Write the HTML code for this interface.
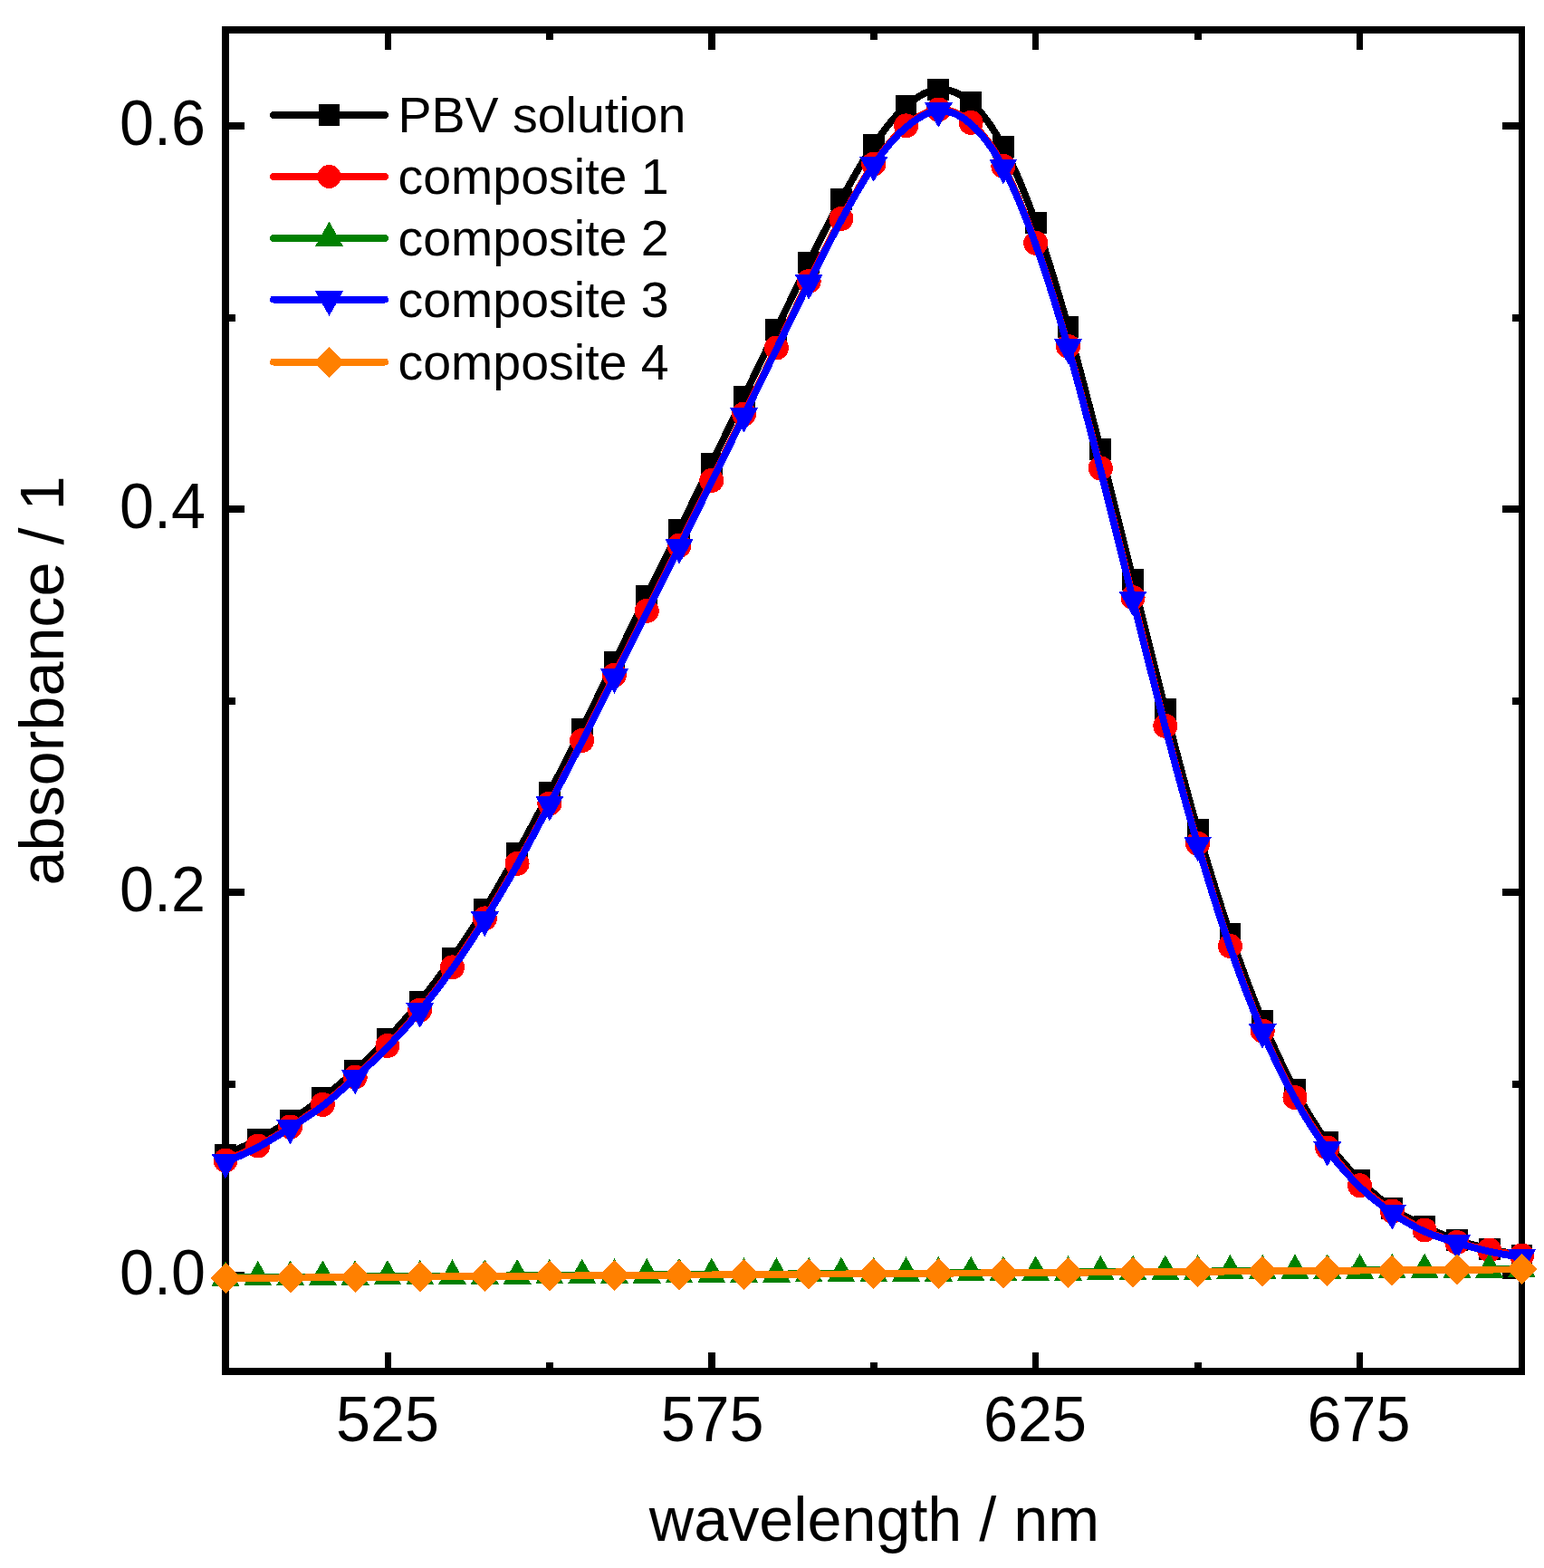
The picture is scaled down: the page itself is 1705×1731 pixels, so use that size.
<!DOCTYPE html>
<html><head><meta charset="utf-8"><title>absorbance spectra</title>
<style>
html,body{margin:0;padding:0;background:#fff;}
body{width:1705px;height:1731px;overflow:hidden;}
svg{display:block;}
text{font-family:"Liberation Sans",Arial,sans-serif;}
</style></head>
<body>
<svg width="1705" height="1731" viewBox="0 0 1705 1731" shape-rendering="crispEdges">
<rect width="1705" height="1731" fill="#fff"/>
<g fill="#000"><rect x="245.00" y="29.00" width="8.00" height="1489.00"/><rect x="1677.00" y="29.00" width="7.00" height="1489.00"/><rect x="245.00" y="29.00" width="1439.00" height="8.00"/><rect x="245.00" y="1510.00" width="1439.00" height="8.00"/><rect x="424.90" y="1493.20" width="7.20" height="17.00"/><rect x="424.90" y="37.00" width="7.20" height="17.70"/><rect x="782.40" y="1493.20" width="7.20" height="17.00"/><rect x="782.40" y="37.00" width="7.20" height="17.70"/><rect x="1139.90" y="1493.20" width="7.20" height="17.00"/><rect x="1139.90" y="37.00" width="7.20" height="17.70"/><rect x="1497.90" y="1493.20" width="7.20" height="17.00"/><rect x="1497.90" y="37.00" width="7.20" height="17.70"/><rect x="602.88" y="1504.00" width="8.00" height="6.00"/><rect x="602.88" y="37.00" width="8.00" height="6.80"/><rect x="960.75" y="1504.00" width="8.00" height="6.00"/><rect x="960.75" y="37.00" width="8.00" height="6.80"/><rect x="1318.62" y="1504.00" width="8.00" height="6.00"/><rect x="1318.62" y="37.00" width="8.00" height="6.80"/><rect x="253.00" y="1404.00" width="17.00" height="8.00"/><rect x="1659.00" y="1404.00" width="18.00" height="8.00"/><rect x="253.00" y="981.00" width="17.00" height="8.00"/><rect x="1659.00" y="981.00" width="18.00" height="8.00"/><rect x="253.00" y="558.00" width="17.00" height="8.00"/><rect x="1659.00" y="558.00" width="18.00" height="8.00"/><rect x="253.00" y="135.00" width="17.00" height="8.00"/><rect x="1659.00" y="135.00" width="18.00" height="8.00"/><rect x="253.00" y="1192.50" width="7.00" height="8.00"/><rect x="1670.00" y="1192.50" width="7.00" height="8.00"/><rect x="253.00" y="769.50" width="7.00" height="8.00"/><rect x="1670.00" y="769.50" width="7.00" height="8.00"/><rect x="253.00" y="346.50" width="7.00" height="8.00"/><rect x="1670.00" y="346.50" width="7.00" height="8.00"/></g>
<g font-size="70" fill="#000">
<text transform="translate(428.00,1591) scale(1,1.04)" text-anchor="middle" font-size="68.3">525</text>
<text transform="translate(786.60,1591) scale(1,1.04)" text-anchor="middle" font-size="68.3">575</text>
<text transform="translate(1143.00,1591) scale(1,1.04)" text-anchor="middle" font-size="68.3">625</text>
<text transform="translate(1500.40,1591) scale(1,1.04)" text-anchor="middle" font-size="68.3">675</text>
<text transform="translate(227,1429.00) scale(1,1.04)" text-anchor="end" font-size="68.3">0.0</text>
<text transform="translate(227,1006.00) scale(1,1.04)" text-anchor="end" font-size="68.3">0.2</text>
<text transform="translate(227,583.00) scale(1,1.04)" text-anchor="end" font-size="68.3">0.4</text>
<text transform="translate(227,160.00) scale(1,1.04)" text-anchor="end" font-size="68.3">0.6</text>
<text x="965.5" y="1701" text-anchor="middle" font-size="68.3">wavelength / nm</text>
<text transform="translate(70,751.5) rotate(-90)" text-anchor="middle" font-size="68.3">absorbance / 1</text>
</g>
<g fill="#000000"><path d="M249.00,1274.80 C254.96,1271.98 272.86,1264.20 284.79,1257.90 C296.72,1251.60 308.65,1244.65 320.57,1237.00 C332.50,1229.35 344.43,1221.17 356.36,1212.00 C368.29,1202.83 380.22,1192.90 392.15,1182.00 C404.08,1171.10 416.01,1159.32 427.94,1146.60 C439.87,1133.88 451.80,1120.50 463.73,1105.70 C475.65,1090.90 487.58,1074.78 499.51,1057.80 C511.44,1040.82 523.37,1023.17 535.30,1003.80 C547.23,984.43 559.16,963.10 571.09,941.60 C583.02,920.10 594.95,897.60 606.88,874.80 C618.80,852.00 630.73,828.78 642.66,804.80 C654.59,780.82 666.52,755.38 678.45,730.90 C690.38,706.42 702.31,682.25 714.24,657.90 C726.17,633.55 738.10,609.18 750.03,584.80 C761.95,560.42 773.88,536.12 785.81,511.60 C797.74,487.08 809.67,462.35 821.60,437.70 C833.53,413.05 845.46,388.35 857.39,363.70 C869.32,339.05 881.25,313.75 893.18,289.80 C905.10,265.85 917.03,241.63 928.96,220.00 C940.89,198.37 952.82,177.17 964.75,160.00 C976.68,142.83 988.61,127.22 1000.54,117.00 C1012.47,106.78 1024.40,99.38 1036.33,98.70 C1048.25,98.02 1060.18,102.38 1072.11,112.90 C1084.04,123.42 1095.97,139.67 1107.90,161.80 C1119.83,183.93 1131.76,212.52 1143.69,245.70 C1155.62,278.88 1167.55,319.22 1179.47,360.90 C1191.40,402.58 1203.33,449.30 1215.26,495.80 C1227.19,542.30 1239.12,592.03 1251.05,639.90 C1262.98,687.77 1274.91,736.98 1286.84,783.00 C1298.77,829.02 1310.70,874.70 1322.62,916.00 C1334.55,957.30 1346.48,995.65 1358.41,1030.80 C1370.34,1065.95 1382.27,1098.20 1394.20,1126.90 C1406.13,1155.60 1418.06,1180.62 1429.99,1203.00 C1441.92,1225.38 1453.85,1244.57 1465.78,1261.20 C1477.70,1277.83 1489.63,1290.70 1501.56,1302.80 C1513.49,1314.90 1525.42,1325.30 1537.35,1333.80 C1549.28,1342.30 1561.21,1347.93 1573.14,1353.80 C1585.07,1359.67 1597.00,1364.87 1608.92,1369.00 C1620.85,1373.13 1632.78,1375.78 1644.71,1378.60 C1656.64,1381.42 1674.54,1384.68 1680.50,1385.90" fill="none" stroke="#000000" stroke-width="7.8" stroke-linejoin="round" stroke-linecap="round"/>
<rect x="237.10" y="1262.90" width="23.8" height="23.8"/>
<rect x="272.89" y="1246.00" width="23.8" height="23.8"/>
<rect x="308.68" y="1225.10" width="23.8" height="23.8"/>
<rect x="344.46" y="1200.10" width="23.8" height="23.8"/>
<rect x="380.25" y="1170.10" width="23.8" height="23.8"/>
<rect x="416.04" y="1134.70" width="23.8" height="23.8"/>
<rect x="451.83" y="1093.80" width="23.8" height="23.8"/>
<rect x="487.61" y="1045.90" width="23.8" height="23.8"/>
<rect x="523.40" y="991.90" width="23.8" height="23.8"/>
<rect x="559.19" y="929.70" width="23.8" height="23.8"/>
<rect x="594.98" y="862.90" width="23.8" height="23.8"/>
<rect x="630.76" y="792.90" width="23.8" height="23.8"/>
<rect x="666.55" y="719.00" width="23.8" height="23.8"/>
<rect x="702.34" y="646.00" width="23.8" height="23.8"/>
<rect x="738.13" y="572.90" width="23.8" height="23.8"/>
<rect x="773.91" y="499.70" width="23.8" height="23.8"/>
<rect x="809.70" y="425.80" width="23.8" height="23.8"/>
<rect x="845.49" y="351.80" width="23.8" height="23.8"/>
<rect x="881.28" y="277.90" width="23.8" height="23.8"/>
<rect x="917.06" y="208.10" width="23.8" height="23.8"/>
<rect x="952.85" y="148.10" width="23.8" height="23.8"/>
<rect x="988.64" y="105.10" width="23.8" height="23.8"/>
<rect x="1024.42" y="86.80" width="23.8" height="23.8"/>
<rect x="1060.21" y="101.00" width="23.8" height="23.8"/>
<rect x="1096.00" y="149.90" width="23.8" height="23.8"/>
<rect x="1131.79" y="233.80" width="23.8" height="23.8"/>
<rect x="1167.57" y="349.00" width="23.8" height="23.8"/>
<rect x="1203.36" y="483.90" width="23.8" height="23.8"/>
<rect x="1239.15" y="628.00" width="23.8" height="23.8"/>
<rect x="1274.94" y="771.10" width="23.8" height="23.8"/>
<rect x="1310.72" y="904.10" width="23.8" height="23.8"/>
<rect x="1346.51" y="1018.90" width="23.8" height="23.8"/>
<rect x="1382.30" y="1115.00" width="23.8" height="23.8"/>
<rect x="1418.09" y="1191.10" width="23.8" height="23.8"/>
<rect x="1453.88" y="1249.30" width="23.8" height="23.8"/>
<rect x="1489.66" y="1290.90" width="23.8" height="23.8"/>
<rect x="1525.45" y="1321.90" width="23.8" height="23.8"/>
<rect x="1561.24" y="1341.90" width="23.8" height="23.8"/>
<rect x="1597.02" y="1357.10" width="23.8" height="23.8"/>
<rect x="1632.81" y="1366.70" width="23.8" height="23.8"/>
<rect x="1668.60" y="1374.00" width="23.8" height="23.8"/>
</g>
<g fill="#FF0000"><path d="M249.00,1281.00 C254.96,1278.33 272.86,1271.17 284.79,1265.00 C296.72,1258.83 308.65,1251.60 320.57,1244.00 C332.50,1236.40 344.43,1228.57 356.36,1219.40 C368.29,1210.23 380.22,1199.82 392.15,1189.00 C404.08,1178.18 416.01,1166.83 427.94,1154.50 C439.87,1142.17 451.80,1129.43 463.73,1115.00 C475.65,1100.57 487.58,1084.75 499.51,1067.90 C511.44,1051.05 523.37,1033.00 535.30,1013.90 C547.23,994.80 559.16,974.45 571.09,953.30 C583.02,932.15 594.95,909.63 606.88,887.00 C618.80,864.37 630.73,841.13 642.66,817.50 C654.59,793.87 666.52,769.07 678.45,745.20 C690.38,721.33 702.31,698.13 714.24,674.30 C726.17,650.47 738.10,626.20 750.03,602.20 C761.95,578.20 773.88,554.50 785.81,530.30 C797.74,506.10 809.67,481.38 821.60,457.00 C833.53,432.62 845.46,408.42 857.39,384.00 C869.32,359.58 881.25,334.25 893.18,310.50 C905.10,286.75 917.03,263.05 928.96,241.50 C940.89,219.95 952.82,198.30 964.75,181.20 C976.68,164.10 988.61,148.93 1000.54,138.90 C1012.47,128.87 1024.40,121.60 1036.33,121.00 C1048.25,120.40 1060.18,124.92 1072.11,135.30 C1084.04,145.68 1095.97,161.12 1107.90,183.30 C1119.83,205.48 1131.76,235.22 1143.69,268.40 C1155.62,301.58 1167.55,340.98 1179.47,382.40 C1191.40,423.82 1203.33,470.70 1215.26,516.90 C1227.19,563.10 1239.12,612.18 1251.05,659.60 C1262.98,707.02 1274.91,756.12 1286.84,801.40 C1298.77,846.68 1310.70,890.78 1322.62,931.30 C1334.55,971.82 1346.48,1010.05 1358.41,1044.50 C1370.34,1078.95 1382.27,1110.15 1394.20,1138.00 C1406.13,1165.85 1418.06,1190.10 1429.99,1211.60 C1441.92,1233.10 1453.85,1250.82 1465.78,1267.00 C1477.70,1283.18 1489.63,1297.03 1501.56,1308.70 C1513.49,1320.37 1525.42,1328.78 1537.35,1337.00 C1549.28,1345.22 1561.21,1352.25 1573.14,1358.00 C1585.07,1363.75 1597.00,1367.83 1608.92,1371.50 C1620.85,1375.17 1632.78,1377.58 1644.71,1380.00 C1656.64,1382.42 1674.54,1385.00 1680.50,1386.00" fill="none" stroke="#FF0000" stroke-width="7.8" stroke-linejoin="round" stroke-linecap="round"/>
<circle cx="249.00" cy="1281.00" r="13.5"/>
<circle cx="284.79" cy="1265.00" r="13.5"/>
<circle cx="320.57" cy="1244.00" r="13.5"/>
<circle cx="356.36" cy="1219.40" r="13.5"/>
<circle cx="392.15" cy="1189.00" r="13.5"/>
<circle cx="427.94" cy="1154.50" r="13.5"/>
<circle cx="463.73" cy="1115.00" r="13.5"/>
<circle cx="499.51" cy="1067.90" r="13.5"/>
<circle cx="535.30" cy="1013.90" r="13.5"/>
<circle cx="571.09" cy="953.30" r="13.5"/>
<circle cx="606.88" cy="887.00" r="13.5"/>
<circle cx="642.66" cy="817.50" r="13.5"/>
<circle cx="678.45" cy="745.20" r="13.5"/>
<circle cx="714.24" cy="674.30" r="13.5"/>
<circle cx="750.03" cy="602.20" r="13.5"/>
<circle cx="785.81" cy="530.30" r="13.5"/>
<circle cx="821.60" cy="457.00" r="13.5"/>
<circle cx="857.39" cy="384.00" r="13.5"/>
<circle cx="893.18" cy="310.50" r="13.5"/>
<circle cx="928.96" cy="241.50" r="13.5"/>
<circle cx="964.75" cy="181.20" r="13.5"/>
<circle cx="1000.54" cy="138.90" r="13.5"/>
<circle cx="1036.33" cy="121.00" r="13.5"/>
<circle cx="1072.11" cy="135.30" r="13.5"/>
<circle cx="1107.90" cy="183.30" r="13.5"/>
<circle cx="1143.69" cy="268.40" r="13.5"/>
<circle cx="1179.47" cy="382.40" r="13.5"/>
<circle cx="1215.26" cy="516.90" r="13.5"/>
<circle cx="1251.05" cy="659.60" r="13.5"/>
<circle cx="1286.84" cy="801.40" r="13.5"/>
<circle cx="1322.62" cy="931.30" r="13.5"/>
<circle cx="1358.41" cy="1044.50" r="13.5"/>
<circle cx="1394.20" cy="1138.00" r="13.5"/>
<circle cx="1429.99" cy="1211.60" r="13.5"/>
<circle cx="1465.78" cy="1267.00" r="13.5"/>
<circle cx="1501.56" cy="1308.70" r="13.5"/>
<circle cx="1537.35" cy="1337.00" r="13.5"/>
<circle cx="1573.14" cy="1358.00" r="13.5"/>
<circle cx="1608.92" cy="1371.50" r="13.5"/>
<circle cx="1644.71" cy="1380.00" r="13.5"/>
<circle cx="1680.50" cy="1386.00" r="13.5"/>
</g>
<g fill="#008000"><path d="M249.00,1410.40 C254.96,1410.36 272.86,1410.25 284.79,1410.17 C296.72,1410.09 308.65,1410.02 320.57,1409.94 C332.50,1409.86 344.43,1409.79 356.36,1409.71 C368.29,1409.63 380.22,1409.56 392.15,1409.48 C404.08,1409.40 416.01,1409.33 427.94,1409.25 C439.87,1409.17 451.80,1409.10 463.73,1409.02 C475.65,1408.94 487.58,1408.87 499.51,1408.79 C511.44,1408.71 523.37,1408.64 535.30,1408.56 C547.23,1408.48 559.16,1408.41 571.09,1408.33 C583.02,1408.25 594.95,1408.18 606.88,1408.10 C618.80,1408.02 630.73,1407.95 642.66,1407.87 C654.59,1407.79 666.52,1407.72 678.45,1407.64 C690.38,1407.56 702.31,1407.49 714.24,1407.41 C726.17,1407.33 738.10,1407.26 750.03,1407.18 C761.95,1407.10 773.88,1407.03 785.81,1406.95 C797.74,1406.87 809.67,1406.80 821.60,1406.72 C833.53,1406.64 845.46,1406.57 857.39,1406.49 C869.32,1406.41 881.25,1406.34 893.18,1406.26 C905.10,1406.18 917.03,1406.11 928.96,1406.03 C940.89,1405.95 952.82,1405.88 964.75,1405.80 C976.68,1405.72 988.61,1405.65 1000.54,1405.57 C1012.47,1405.49 1024.40,1405.42 1036.33,1405.34 C1048.25,1405.26 1060.18,1405.19 1072.11,1405.11 C1084.04,1405.03 1095.97,1404.96 1107.90,1404.88 C1119.83,1404.80 1131.76,1404.73 1143.69,1404.65 C1155.62,1404.57 1167.55,1404.50 1179.47,1404.42 C1191.40,1404.34 1203.33,1404.27 1215.26,1404.19 C1227.19,1404.11 1239.12,1404.04 1251.05,1403.96 C1262.98,1403.88 1274.91,1403.81 1286.84,1403.73 C1298.77,1403.65 1310.70,1403.58 1322.62,1403.50 C1334.55,1403.42 1346.48,1403.35 1358.41,1403.27 C1370.34,1403.19 1382.27,1403.12 1394.20,1403.04 C1406.13,1402.96 1418.06,1402.89 1429.99,1402.81 C1441.92,1402.73 1453.85,1402.66 1465.78,1402.58 C1477.70,1402.50 1489.63,1402.43 1501.56,1402.35 C1513.49,1402.27 1525.42,1402.20 1537.35,1402.12 C1549.28,1402.04 1561.21,1401.97 1573.14,1401.89 C1585.07,1401.81 1597.00,1401.74 1608.92,1401.66 C1620.85,1401.58 1632.78,1401.51 1644.71,1401.43 C1656.64,1401.35 1674.54,1401.24 1680.50,1401.20" fill="none" stroke="#008000" stroke-width="7.8" stroke-linejoin="round" stroke-linecap="round"/>
<path d="M249.00,1392.00 L264.50,1419.60 L233.50,1419.60 Z"/>
<path d="M284.79,1391.77 L300.29,1419.37 L269.29,1419.37 Z"/>
<path d="M320.57,1391.54 L336.07,1419.14 L305.07,1419.14 Z"/>
<path d="M356.36,1391.31 L371.86,1418.91 L340.86,1418.91 Z"/>
<path d="M392.15,1391.08 L407.65,1418.68 L376.65,1418.68 Z"/>
<path d="M427.94,1390.85 L443.44,1418.45 L412.44,1418.45 Z"/>
<path d="M463.73,1390.62 L479.23,1418.22 L448.23,1418.22 Z"/>
<path d="M499.51,1390.39 L515.01,1417.99 L484.01,1417.99 Z"/>
<path d="M535.30,1390.16 L550.80,1417.76 L519.80,1417.76 Z"/>
<path d="M571.09,1389.93 L586.59,1417.53 L555.59,1417.53 Z"/>
<path d="M606.88,1389.70 L622.38,1417.30 L591.38,1417.30 Z"/>
<path d="M642.66,1389.47 L658.16,1417.07 L627.16,1417.07 Z"/>
<path d="M678.45,1389.24 L693.95,1416.84 L662.95,1416.84 Z"/>
<path d="M714.24,1389.01 L729.74,1416.61 L698.74,1416.61 Z"/>
<path d="M750.03,1388.78 L765.53,1416.38 L734.53,1416.38 Z"/>
<path d="M785.81,1388.55 L801.31,1416.15 L770.31,1416.15 Z"/>
<path d="M821.60,1388.32 L837.10,1415.92 L806.10,1415.92 Z"/>
<path d="M857.39,1388.09 L872.89,1415.69 L841.89,1415.69 Z"/>
<path d="M893.18,1387.86 L908.68,1415.46 L877.68,1415.46 Z"/>
<path d="M928.96,1387.63 L944.46,1415.23 L913.46,1415.23 Z"/>
<path d="M964.75,1387.40 L980.25,1415.00 L949.25,1415.00 Z"/>
<path d="M1000.54,1387.17 L1016.04,1414.77 L985.04,1414.77 Z"/>
<path d="M1036.33,1386.94 L1051.83,1414.54 L1020.83,1414.54 Z"/>
<path d="M1072.11,1386.71 L1087.61,1414.31 L1056.61,1414.31 Z"/>
<path d="M1107.90,1386.48 L1123.40,1414.08 L1092.40,1414.08 Z"/>
<path d="M1143.69,1386.25 L1159.19,1413.85 L1128.19,1413.85 Z"/>
<path d="M1179.47,1386.02 L1194.97,1413.62 L1163.97,1413.62 Z"/>
<path d="M1215.26,1385.79 L1230.76,1413.39 L1199.76,1413.39 Z"/>
<path d="M1251.05,1385.56 L1266.55,1413.16 L1235.55,1413.16 Z"/>
<path d="M1286.84,1385.33 L1302.34,1412.93 L1271.34,1412.93 Z"/>
<path d="M1322.62,1385.10 L1338.12,1412.70 L1307.12,1412.70 Z"/>
<path d="M1358.41,1384.87 L1373.91,1412.47 L1342.91,1412.47 Z"/>
<path d="M1394.20,1384.64 L1409.70,1412.24 L1378.70,1412.24 Z"/>
<path d="M1429.99,1384.41 L1445.49,1412.01 L1414.49,1412.01 Z"/>
<path d="M1465.78,1384.18 L1481.28,1411.78 L1450.28,1411.78 Z"/>
<path d="M1501.56,1383.95 L1517.06,1411.55 L1486.06,1411.55 Z"/>
<path d="M1537.35,1383.72 L1552.85,1411.32 L1521.85,1411.32 Z"/>
<path d="M1573.14,1383.49 L1588.64,1411.09 L1557.64,1411.09 Z"/>
<path d="M1608.92,1383.26 L1624.42,1410.86 L1593.42,1410.86 Z"/>
<path d="M1644.71,1383.03 L1660.21,1410.63 L1629.21,1410.63 Z"/>
<path d="M1680.50,1382.80 L1696.00,1410.40 L1665.00,1410.40 Z"/>
</g>
<g fill="#0000FF"><path d="M249.00,1283.00 C254.96,1280.27 272.86,1272.93 284.79,1266.60 C296.72,1260.27 308.65,1252.60 320.57,1245.00 C332.50,1237.40 344.43,1230.17 356.36,1221.00 C368.29,1211.83 380.22,1200.82 392.15,1190.00 C404.08,1179.18 416.01,1168.38 427.94,1156.10 C439.87,1143.82 451.80,1130.73 463.73,1116.30 C475.65,1101.87 487.58,1086.30 499.51,1069.50 C511.44,1052.70 523.37,1034.60 535.30,1015.50 C547.23,996.40 559.16,976.12 571.09,954.90 C583.02,933.68 594.95,910.83 606.88,888.20 C618.80,865.57 630.73,842.57 642.66,819.10 C654.59,795.63 666.52,771.27 678.45,747.40 C690.38,723.53 702.31,699.73 714.24,675.90 C726.17,652.07 738.10,628.40 750.03,604.40 C761.95,580.40 773.88,556.10 785.81,531.90 C797.74,507.70 809.67,483.58 821.60,459.20 C833.53,434.82 845.46,410.07 857.39,385.60 C869.32,361.13 881.25,336.15 893.18,312.40 C905.10,288.65 917.03,264.77 928.96,243.10 C940.89,221.43 952.82,199.50 964.75,182.40 C976.68,165.30 988.61,150.50 1000.54,140.50 C1012.47,130.50 1024.40,123.00 1036.33,122.40 C1048.25,121.80 1060.18,126.45 1072.11,136.90 C1084.04,147.35 1095.97,162.92 1107.90,185.10 C1119.83,207.28 1131.76,236.93 1143.69,270.00 C1155.62,303.07 1167.55,342.08 1179.47,383.50 C1191.40,424.92 1203.33,472.08 1215.26,518.50 C1227.19,564.92 1239.12,614.58 1251.05,662.00 C1262.98,709.42 1274.91,757.88 1286.84,803.00 C1298.77,848.12 1310.70,892.18 1322.62,932.70 C1334.55,973.22 1346.48,1011.65 1358.41,1046.10 C1370.34,1080.55 1382.27,1111.55 1394.20,1139.40 C1406.13,1167.25 1418.06,1191.53 1429.99,1213.20 C1441.92,1234.87 1453.85,1253.22 1465.78,1269.40 C1477.70,1285.58 1489.63,1298.65 1501.56,1310.30 C1513.49,1321.95 1525.42,1331.08 1537.35,1339.30 C1549.28,1347.52 1561.21,1354.15 1573.14,1359.60 C1585.07,1365.05 1597.00,1368.33 1608.92,1372.00 C1620.85,1375.67 1632.78,1378.88 1644.71,1381.60 C1656.64,1384.32 1674.54,1387.18 1680.50,1388.30" fill="none" stroke="#0000FF" stroke-width="7.8" stroke-linejoin="round" stroke-linecap="round"/>
<path d="M233.50,1273.80 L264.50,1273.80 L249.00,1301.40 Z"/>
<path d="M305.07,1235.80 L336.07,1235.80 L320.57,1263.40 Z"/>
<path d="M376.65,1180.80 L407.65,1180.80 L392.15,1208.40 Z"/>
<path d="M448.23,1107.10 L479.23,1107.10 L463.73,1134.70 Z"/>
<path d="M519.80,1006.30 L550.80,1006.30 L535.30,1033.90 Z"/>
<path d="M591.38,879.00 L622.38,879.00 L606.88,906.60 Z"/>
<path d="M662.95,738.20 L693.95,738.20 L678.45,765.80 Z"/>
<path d="M734.53,595.20 L765.53,595.20 L750.03,622.80 Z"/>
<path d="M806.10,450.00 L837.10,450.00 L821.60,477.60 Z"/>
<path d="M877.68,303.20 L908.68,303.20 L893.18,330.80 Z"/>
<path d="M949.25,173.20 L980.25,173.20 L964.75,200.80 Z"/>
<path d="M1020.83,113.20 L1051.83,113.20 L1036.33,140.80 Z"/>
<path d="M1092.40,175.90 L1123.40,175.90 L1107.90,203.50 Z"/>
<path d="M1163.97,374.30 L1194.97,374.30 L1179.47,401.90 Z"/>
<path d="M1235.55,652.80 L1266.55,652.80 L1251.05,680.40 Z"/>
<path d="M1307.12,923.50 L1338.12,923.50 L1322.62,951.10 Z"/>
<path d="M1378.70,1130.20 L1409.70,1130.20 L1394.20,1157.80 Z"/>
<path d="M1450.28,1260.20 L1481.28,1260.20 L1465.78,1287.80 Z"/>
<path d="M1521.85,1330.10 L1552.85,1330.10 L1537.35,1357.70 Z"/>
<path d="M1593.42,1362.80 L1624.42,1362.80 L1608.92,1390.40 Z"/>
<path d="M1665.00,1379.10 L1696.00,1379.10 L1680.50,1406.70 Z"/>
</g>
<g fill="#FF8000"><path d="M249.00,1411.00 C254.96,1410.96 272.86,1410.84 284.79,1410.76 C296.72,1410.68 308.65,1410.60 320.57,1410.52 C332.50,1410.44 344.43,1410.36 356.36,1410.28 C368.29,1410.20 380.22,1410.12 392.15,1410.04 C404.08,1409.96 416.01,1409.88 427.94,1409.80 C439.87,1409.72 451.80,1409.64 463.73,1409.56 C475.65,1409.48 487.58,1409.40 499.51,1409.32 C511.44,1409.24 523.37,1409.16 535.30,1409.08 C547.23,1409.00 559.16,1408.92 571.09,1408.84 C583.02,1408.76 594.95,1408.68 606.88,1408.60 C618.80,1408.52 630.73,1408.44 642.66,1408.36 C654.59,1408.28 666.52,1408.20 678.45,1408.12 C690.38,1408.04 702.31,1407.96 714.24,1407.88 C726.17,1407.80 738.10,1407.72 750.03,1407.64 C761.95,1407.56 773.88,1407.48 785.81,1407.40 C797.74,1407.32 809.67,1407.24 821.60,1407.16 C833.53,1407.08 845.46,1407.00 857.39,1406.92 C869.32,1406.84 881.25,1406.76 893.18,1406.68 C905.10,1406.60 917.03,1406.52 928.96,1406.44 C940.89,1406.36 952.82,1406.28 964.75,1406.20 C976.68,1406.12 988.61,1406.04 1000.54,1405.96 C1012.47,1405.88 1024.40,1405.80 1036.33,1405.72 C1048.25,1405.64 1060.18,1405.56 1072.11,1405.48 C1084.04,1405.40 1095.97,1405.32 1107.90,1405.24 C1119.83,1405.16 1131.76,1405.08 1143.69,1405.00 C1155.62,1404.92 1167.55,1404.84 1179.47,1404.76 C1191.40,1404.68 1203.33,1404.60 1215.26,1404.52 C1227.19,1404.44 1239.12,1404.36 1251.05,1404.28 C1262.98,1404.20 1274.91,1404.12 1286.84,1404.04 C1298.77,1403.96 1310.70,1403.88 1322.62,1403.80 C1334.55,1403.72 1346.48,1403.64 1358.41,1403.56 C1370.34,1403.48 1382.27,1403.40 1394.20,1403.32 C1406.13,1403.24 1418.06,1403.16 1429.99,1403.08 C1441.92,1403.00 1453.85,1402.92 1465.78,1402.84 C1477.70,1402.76 1489.63,1402.68 1501.56,1402.60 C1513.49,1402.52 1525.42,1402.44 1537.35,1402.36 C1549.28,1402.28 1561.21,1402.20 1573.14,1402.12 C1585.07,1402.04 1597.00,1401.96 1608.92,1401.88 C1620.85,1401.80 1632.78,1401.72 1644.71,1401.64 C1656.64,1401.56 1674.54,1401.44 1680.50,1401.40" fill="none" stroke="#FF8000" stroke-width="7.8" stroke-linejoin="round" stroke-linecap="round"/>
<path d="M249.00,1394.00 L266.00,1411.00 L249.00,1428.00 L232.00,1411.00 Z"/>
<path d="M320.57,1393.52 L337.57,1410.52 L320.57,1427.52 L303.57,1410.52 Z"/>
<path d="M392.15,1393.04 L409.15,1410.04 L392.15,1427.04 L375.15,1410.04 Z"/>
<path d="M463.73,1392.56 L480.73,1409.56 L463.73,1426.56 L446.73,1409.56 Z"/>
<path d="M535.30,1392.08 L552.30,1409.08 L535.30,1426.08 L518.30,1409.08 Z"/>
<path d="M606.88,1391.60 L623.88,1408.60 L606.88,1425.60 L589.88,1408.60 Z"/>
<path d="M678.45,1391.12 L695.45,1408.12 L678.45,1425.12 L661.45,1408.12 Z"/>
<path d="M750.03,1390.64 L767.03,1407.64 L750.03,1424.64 L733.03,1407.64 Z"/>
<path d="M821.60,1390.16 L838.60,1407.16 L821.60,1424.16 L804.60,1407.16 Z"/>
<path d="M893.18,1389.68 L910.18,1406.68 L893.18,1423.68 L876.18,1406.68 Z"/>
<path d="M964.75,1389.20 L981.75,1406.20 L964.75,1423.20 L947.75,1406.20 Z"/>
<path d="M1036.33,1388.72 L1053.33,1405.72 L1036.33,1422.72 L1019.33,1405.72 Z"/>
<path d="M1107.90,1388.24 L1124.90,1405.24 L1107.90,1422.24 L1090.90,1405.24 Z"/>
<path d="M1179.47,1387.76 L1196.47,1404.76 L1179.47,1421.76 L1162.47,1404.76 Z"/>
<path d="M1251.05,1387.28 L1268.05,1404.28 L1251.05,1421.28 L1234.05,1404.28 Z"/>
<path d="M1322.62,1386.80 L1339.62,1403.80 L1322.62,1420.80 L1305.62,1403.80 Z"/>
<path d="M1394.20,1386.32 L1411.20,1403.32 L1394.20,1420.32 L1377.20,1403.32 Z"/>
<path d="M1465.78,1385.84 L1482.78,1402.84 L1465.78,1419.84 L1448.78,1402.84 Z"/>
<path d="M1537.35,1385.36 L1554.35,1402.36 L1537.35,1419.36 L1520.35,1402.36 Z"/>
<path d="M1608.92,1384.88 L1625.92,1401.88 L1608.92,1418.88 L1591.92,1401.88 Z"/>
<path d="M1680.50,1384.40 L1697.50,1401.40 L1680.50,1418.40 L1663.50,1401.40 Z"/>
</g>
<g fill="#000000"><path d="M302,126.90 H425" stroke="#000000" stroke-width="7.8" stroke-linecap="round"/>
<rect x="351.60" y="115.00" width="23.8" height="23.8"/>
</g>
<text x="439.5" y="146.30" font-size="55.5" fill="#000">PBV solution</text>
<g fill="#FF0000"><path d="M302,195.00 H425" stroke="#FF0000" stroke-width="7.8" stroke-linecap="round"/>
<circle cx="363.5" cy="195.00" r="13"/>
</g>
<text x="439.5" y="214.40" font-size="55.5" fill="#000">composite 1</text>
<g fill="#008000"><path d="M302,262.90 H425" stroke="#008000" stroke-width="7.8" stroke-linecap="round"/>
<path d="M363.50,244.50 L379.00,272.10 L348.00,272.10 Z"/>
</g>
<text x="439.5" y="282.30" font-size="55.5" fill="#000">composite 2</text>
<g fill="#0000FF"><path d="M302,330.60 H425" stroke="#0000FF" stroke-width="7.8" stroke-linecap="round"/>
<path d="M348.00,321.40 L379.00,321.40 L363.50,349.00 Z"/>
</g>
<text x="439.5" y="350.00" font-size="55.5" fill="#000">composite 3</text>
<g fill="#FF8000"><path d="M302,399.60 H425" stroke="#FF8000" stroke-width="7.8" stroke-linecap="round"/>
<path d="M363.50,382.60 L380.50,399.60 L363.50,416.60 L346.50,399.60 Z"/>
</g>
<text x="439.5" y="419.00" font-size="55.5" fill="#000">composite 4</text>
</svg>
</body></html>
